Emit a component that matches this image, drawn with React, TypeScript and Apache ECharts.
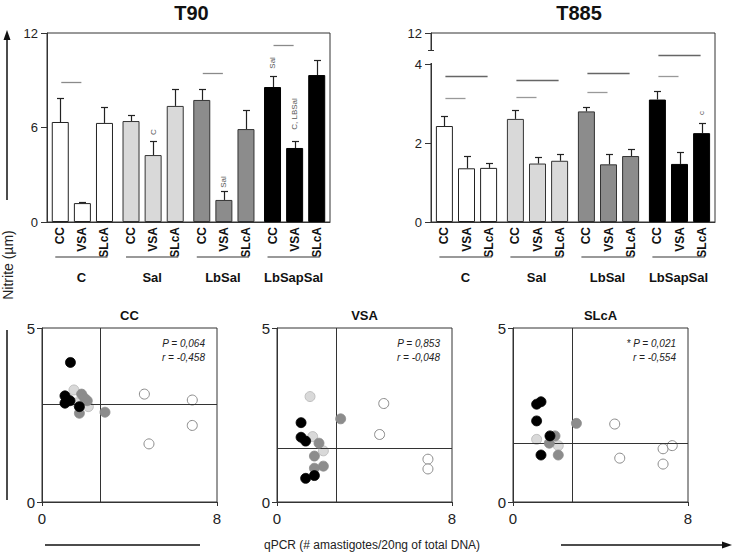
import React, { useEffect, useRef } from 'react';
import * as echarts from 'echarts';

const FONT = '"Liberation Sans", Arial, Helvetica, sans-serif';

const groups = ['C', 'Sal', 'LbSal', 'LbSapSal'];
const treatments = ['CC', 'VSA', 'SLcA'];
const groupColors = ['#ffffff', '#d9d9d9', '#8c8c8c', '#000000'];
const groupBorders = ['#222222', '#333333', '#333333', '#000000'];

// T90: means by group, and top of the error bar
const t90CC = [6.35, 6.41, 7.75, 8.57];
const t90VSA = [1.2, 4.25, 1.4, 4.7];
const t90SLcA = [6.29, 7.37, 5.9, 9.33];
const t90CCErr = [7.87, 6.8, 8.47, 9.27];
const t90VSAErr = [1.25, 5.15, 1.97, 5.14];
const t90SLcAErr = [7.3, 8.47, 7.1, 10.28];

// T885
const t885CC = [2.43, 2.61, 2.8, 3.1];
const t885VSA = [1.36, 1.48, 1.46, 1.47];
const t885SLcA = [1.37, 1.55, 1.67, 2.25];
const t885CCErr = [2.69, 2.83, 2.91, 3.32];
const t885VSAErr = [1.66, 1.64, 1.72, 1.78];
const t885SLcAErr = [1.49, 1.71, 1.86, 2.51];

// significance lines: [group, fromBar, toBar, y]
const t90Sig = [[0, 0, 1, 8.9], [2, 0, 1, 9.46], [3, 0, 1, 11.24]];
const t885Sig = [
  [0, 0, 1, 3.15], [0, 0, 2, 3.7], [1, 0, 1, 3.17], [1, 0, 2, 3.59],
  [2, 0, 1, 3.28], [2, 0, 2, 3.77], [3, 0, 1, 3.7], [3, 0, 2, 4.23],
];
// annotations: [group, bar, y]
const t90NoteText = ['C', 'Sal', 'Sal', 'C, LBSal'];
const t90NotePos = [[1, 1, 5.71], [2, 1, 2.54], [3, 0, 10.1], [3, 1, 6.86]];
const t885NoteText = ['c'];
const t885NotePos = [[3, 2, 2.76]];

const t885Max = 4.785;

// scatter: [qPCR, nitrite]
const ccC = [[4.68, 3.1], [6.87, 2.93], [6.87, 2.2], [4.89, 1.67]];
const ccSal = [[1.46, 3.22], [2.12, 2.74], [1.2, 2.95], [1.6, 2.85]];
const ccLbSal = [[1.81, 3.1], [2.07, 2.91], [1.71, 2.55], [2.88, 2.58], [1.95, 2.98]];
const ccLbSapSal = [[1.3, 4.01], [1.05, 3.05], [1.28, 2.91], [1.05, 2.84], [1.71, 2.74]];
const vsaC = [[4.88, 2.83], [4.69, 1.94], [6.9, 1.23], [6.9, 0.95]];
const vsaSal = [[1.51, 3.03], [1.63, 1.88], [2.12, 1.47]];
const vsaLbSal = [[2.91, 2.39], [1.92, 1.69], [1.71, 1.32], [2.12, 1.03], [1.71, 0.97]];
const vsaLbSapSal = [[1.1, 2.28], [1.1, 1.86], [1.31, 1.75], [1.71, 0.76], [1.31, 0.68]];
const slcaC = [[4.65, 2.24], [4.88, 1.26], [6.86, 1.53], [7.28, 1.62], [6.86, 1.09]];
const slcaSal = [[1.08, 1.8], [2.07, 1.62]];
const slcaLbSal = [[2.9, 2.26], [1.92, 1.9], [1.66, 1.69], [2.07, 1.35]];
const slcaLbSapSal = [[1.28, 2.88], [1.08, 2.81], [1.08, 2.33], [1.69, 1.9], [1.28, 1.35]];

const scatterTitles = ['CC', 'VSA', 'SLcA'];
const scatterCutX = [2.68, 2.73, 2.71];
const scatterCutY = [2.82, 1.54, 1.7];
const scatterStats = [
  ['P = 0,064', 'r = -0,458'],
  ['P = 0,853', 'r = -0,048'],
  ['* P = 0,021', 'r = -0,554'],
];
const scatterSets = [
  [ccC, ccSal, ccLbSal, ccLbSapSal],
  [vsaC, vsaSal, vsaLbSal, vsaLbSapSal],
  [slcaC, slcaSal, slcaLbSal, slcaLbSapSal],
];
const scatterBorders = ['#8a8a8a', '#b5b5b5', '#8c8c8c', '#000000'];

const GRIDS = [
  { left: 47, top: 33, width: 283, height: 189 },
  { left: 431, top: 33, width: 284, height: 189 },
  { left: 42, top: 328, width: 175, height: 174 },
  { left: 277, top: 328, width: 175, height: 174 },
  { left: 513, top: 328, width: 175, height: 174 },
];

const BAR_W = 17;
const BAR_GAP = 0.3;
const PITCH = BAR_W * (1 + BAR_GAP);

function barSeries(ax: number, name: string, values: number[]) {
  return {
    type: 'bar', name, xAxisIndex: ax, yAxisIndex: ax, barWidth: BAR_W, barGap: '30%', z: 3,
    data: values.map((v, g) => ({
      value: v,
      itemStyle: { color: groupColors[g], borderColor: groupBorders[g], borderWidth: 1 },
    })),
  };
}

function errorSeries(ax: number, means: number[][], errs: number[][]) {
  const data: number[][] = [];
  means.forEach((arr, b) => arr.forEach((v, g) => data.push([g, b, v, errs[b][g]])));
  return {
    type: 'custom', xAxisIndex: ax, yAxisIndex: ax, z: 4, silent: true, clip: false,
    encode: { x: 0, y: 2 },
    data,
    renderItem: (params: any, api: any) => {
      const g = api.value(0), b = api.value(1);
      const base = api.coord([g, api.value(2)]);
      const top = api.coord([g, api.value(3)]);
      const cx = Math.round(base[0] + (b - 1) * PITCH) + 0.5;
      const ty = Math.round(top[1]) + 0.5;
      return {
        type: 'group',
        children: [
          { type: 'line', shape: { x1: cx, y1: base[1], x2: cx, y2: ty }, style: { stroke: '#222', lineWidth: 1.2 } },
          { type: 'line', shape: { x1: cx - 3.5, y1: ty, x2: cx + 3.5, y2: ty }, style: { stroke: '#222', lineWidth: 1.2 } },
        ],
      };
    },
  };
}

function labelSeries(ax: number) {
  return {
    type: 'custom', xAxisIndex: ax, yAxisIndex: ax, silent: true, clip: false, z: 6,
    encode: { x: 0, y: 1 },
    data: groups.map((_, g) => [g, 0]),
    renderItem: (params: any, api: any) => {
      const g = api.value(0);
      const p = api.coord([g, 0]);
      const children: any[] = treatments.map((t, b) => ({
        type: 'text', x: p[0] + (b - 1) * PITCH, y: p[1] + 5, rotation: Math.PI / 2,
        style: { text: t, font: `bold 12px ${FONT}`, fill: '#111', align: 'right', verticalAlign: 'middle' },
      }));
      const x1 = p[0] - PITCH - 5, x2 = p[0] + PITCH + 3;
      children.push({ type: 'line', shape: { x1, y1: p[1] + 35, x2, y2: p[1] + 35 }, style: { stroke: '#777', lineWidth: 1.5 } });
      children.push({
        type: 'text', x: (x1 + x2) / 2, y: p[1] + 55,
        style: { text: groups[g], font: `bold 13px ${FONT}`, fill: '#111', align: 'center', verticalAlign: 'middle' },
      });
      return { type: 'group', children };
    },
  };
}

function sigSeries(ax: number, sig: number[][], color: (s: number[]) => string) {
  return {
    type: 'custom', xAxisIndex: ax, yAxisIndex: ax, silent: true, clip: false, z: 6,
    encode: { x: 0, y: 3 },
    data: sig,
    renderItem: (params: any, api: any) => {
      const s = sig[params.dataIndex];
      const p = api.coord([api.value(0), api.value(3)]);
      const y = Math.round(p[1]) + 0.5;
      return {
        type: 'line',
        shape: { x1: p[0] + (api.value(1) - 1) * PITCH + 1, y1: y, x2: p[0] + (api.value(2) - 1) * PITCH - 1, y2: y },
        style: { stroke: color(s), lineWidth: 1.3 },
      };
    },
  };
}

function noteSeries(ax: number, pos: number[][], texts: string[]) {
  return {
    type: 'custom', xAxisIndex: ax, yAxisIndex: ax, silent: true, clip: false, z: 6,
    encode: { x: 0, y: 2 },
    data: pos,
    renderItem: (params: any, api: any) => {
      const p = api.coord([api.value(0), api.value(2)]);
      return {
        type: 'text', x: p[0] + (api.value(1) - 1) * PITCH, y: p[1], rotation: Math.PI / 2,
        style: { text: texts[params.dataIndex], font: `8px ${FONT}`, fill: '#555', align: 'center', verticalAlign: 'middle' },
      };
    },
  };
}

export default function App() {
  const ref = useRef<HTMLDivElement>(null);
  useEffect(() => {
    if (!ref.current) return;
    const chart = echarts.init(ref.current, null, { renderer: 'svg' });

    const grid = GRIDS.map((g, i) => ({
      ...g, show: true, borderColor: '#333', borderWidth: 1, backgroundColor: 'transparent',
      containLabel: false, outerBoundsMode: 'none',
    }));

    const xAxis: any[] = [];
    const yAxis: any[] = [];
    for (let i = 0; i < 2; i++) {
      xAxis.push({
        gridIndex: i, type: 'category', data: groups,
        axisLine: { lineStyle: { color: '#333', width: 1 } },
        axisTick: { show: false }, axisLabel: { show: false }, splitLine: { show: false },
      });
    }
    yAxis.push({
      gridIndex: 0, type: 'value', min: 0, max: 12, interval: 6,
      axisLine: { show: true, lineStyle: { color: '#333' } },
      axisTick: { show: true, length: 6, lineStyle: { color: '#333' } },
      axisLabel: { fontSize: 13, color: '#222', margin: 9, fontFamily: FONT },
      splitLine: { show: false },
    });
    yAxis.push({
      gridIndex: 1, type: 'value', min: 0, max: t885Max, interval: 2,
      axisLine: { show: true, lineStyle: { color: '#333' } },
      axisTick: { show: true, length: 6, lineStyle: { color: '#333' } },
      axisLabel: {
        fontSize: 13, color: '#222', margin: 9, fontFamily: FONT,
        formatter: (v: number) => (v > 4.5 ? '12' : String(v)),
        showMaxLabel: true,
      },
      splitLine: { show: false },
    });
    for (let k = 0; k < 3; k++) {
      xAxis.push({
        gridIndex: 2 + k, type: 'value', min: 0, max: 8, interval: 8,
        axisLine: { lineStyle: { color: '#333' } },
        axisTick: { show: true, length: 4, lineStyle: { color: '#333' } },
        axisLabel: { fontSize: 15, color: '#222', margin: 9, fontFamily: FONT },
        splitLine: { show: false },
      });
      yAxis.push({
        gridIndex: 2 + k, type: 'value', min: 0, max: 5, interval: 5,
        axisLine: { lineStyle: { color: '#333' } },
        axisTick: { show: true, length: 5, lineStyle: { color: '#333' } },
        axisLabel: { fontSize: 15, color: '#222', margin: 7, fontFamily: FONT },
        splitLine: { show: false },
      });
    }

    const series: any[] = [
      barSeries(0, 'CC', t90CC), barSeries(0, 'VSA', t90VSA), barSeries(0, 'SLcA', t90SLcA),
      errorSeries(0, [t90CC, t90VSA, t90SLcA], [t90CCErr, t90VSAErr, t90SLcAErr]),
      labelSeries(0),
      sigSeries(0, t90Sig, () => '#8a8a8a'),
      noteSeries(0, t90NotePos, t90NoteText),
      barSeries(1, 'CC', t885CC), barSeries(1, 'VSA', t885VSA), barSeries(1, 'SLcA', t885SLcA),
      errorSeries(1, [t885CC, t885VSA, t885SLcA], [t885CCErr, t885VSAErr, t885SLcAErr]),
      labelSeries(1),
      sigSeries(1, t885Sig, (s) => (s[2] === 2 ? '#666' : '#999')),
      noteSeries(1, t885NotePos, t885NoteText),
    ];

    for (let k = 0; k < 3; k++) {
      const ax = 2 + k;
      series.push({
        type: 'scatter', xAxisIndex: ax, yAxisIndex: ax, data: [], z: 1, silent: true,
        markLine: {
          silent: true, symbol: 'none', animation: false,
          label: { show: false },
          lineStyle: { color: '#333', width: 1, type: 'solid' },
          data: [{ xAxis: scatterCutX[k] }, { yAxis: scatterCutY[k] }],
        },
      });
      scatterSets[k].forEach((pts, g) => {
        series.push({
          type: 'scatter', xAxisIndex: ax, yAxisIndex: ax, z: 3 + g, silent: true,
          symbol: 'circle', symbolSize: 10,
          itemStyle: {
            color: groupColors[g], borderColor: scatterBorders[g], borderWidth: g === 0 ? 1 : 0.8, opacity: 1,
          },
          data: pts,
        });
      });
    }

    chart.setOption({
      animation: false,
      backgroundColor: '#ffffff',
      textStyle: { fontFamily: FONT },
      grid, xAxis, yAxis, series,
    });

    // graphics (axis break on T885, titles, arrows, shared labels)
    const g1 = GRIDS[1];
    const y4 = chart.convertToPixel({ yAxisIndex: 1 } as any, 4) as number;
    const breakTop = g1.top + 17;
    const txt = (x: number, y: number, text: string, font: string, extra: any = {}, rotation = 0) => ({
      type: 'text', x, y, rotation, silent: true, z: 50,
      style: { text, font, fill: '#111', align: 'center', verticalAlign: 'middle', ...extra },
    });
    const ln = (x1: number, y1: number, x2: number, y2: number, w = 1.5, c = '#111') => ({
      type: 'line', silent: true, z: 50, shape: { x1, y1, x2, y2 }, style: { stroke: c, lineWidth: w },
    });

    const graphic: any[] = [
      { type: 'rect', silent: true, z: 60, shape: { x: g1.left - 2, y: breakTop + 1, width: 4, height: y4 - breakTop - 2 }, style: { fill: '#fff' } },
      ln(g1.left - 3, breakTop + 0.5, g1.left + 3, breakTop + 0.5, 1, '#333'),
      txt(GRIDS[0].left + GRIDS[0].width / 2 + 3, 13, 'T90', `bold 20px ${FONT}`),
      txt(g1.left + g1.width / 2 + 6, 13, 'T885', `bold 20px ${FONT}`),
      txt(8, 265, 'Nitrite (µm)', `14px ${FONT}`, { fill: '#222' }, Math.PI / 2),
      ln(7, 200, 7, 38),
      { type: 'polygon', silent: true, z: 50, shape: { points: [[7, 30], [3.5, 40], [10.5, 40]] }, style: { fill: '#111' } },
      ln(7, 330, 7, 500),
      ln(45, 545, 200, 545),
      ln(561, 545, 724, 545),
      { type: 'polygon', silent: true, z: 50, shape: { points: [[732, 545], [722, 541.5], [722, 548.5]] }, style: { fill: '#111' } },
      txt(372, 545, 'qPCR (# amastigotes/20ng of total DNA)', `12px ${FONT}`, { fill: '#222' }),
    ];
    for (let k = 0; k < 3; k++) {
      const g = GRIDS[2 + k];
      graphic.push(txt(g.left + g.width / 2, g.top - 13, scatterTitles[k], `bold 13px ${FONT}`));
      graphic.push(txt(g.left + g.width - 12, g.top + 15, scatterStats[k][0], `italic 10px ${FONT}`, { align: 'right', fill: '#222' }));
      graphic.push(txt(g.left + g.width - 12, g.top + 29, scatterStats[k][1], `italic 10px ${FONT}`, { align: 'right', fill: '#222' }));
    }
    chart.setOption({ graphic });

    return () => chart.dispose();
  }, []);

  return (
    <div
      ref={ref}
      style={{ position: 'absolute', left: 0, top: 0, width: 733, height: 554, background: '#fff' }}
    />
  );
}
